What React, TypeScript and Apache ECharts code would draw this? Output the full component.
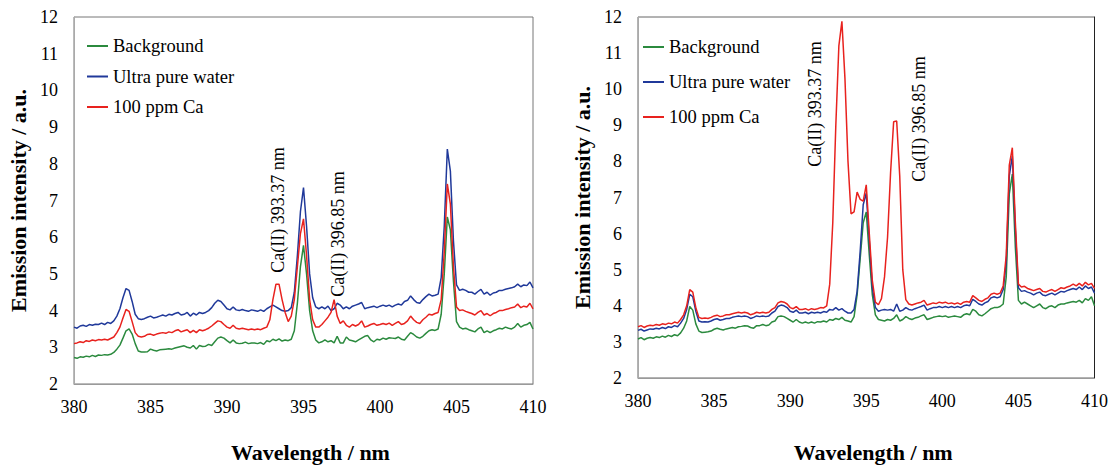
import { useEffect, useRef } from "react";
import * as echarts from "echarts";

// Wavelength grid (nm), 0.2 nm step from 380 to 410
const wavelengths: number[] = Array.from({ length: 151 }, (_, i) => +(380 + i * 0.2).toFixed(1));

const seriesNames = ["Background", "Ultra pure water", "100 ppm Ca"];
const seriesColors = ["#2B8A3E", "#20399A", "#E8221E"];
const xTicks = { min: 380, max: 410, interval: 5 };
const yTicks = { min: 2, max: 12, interval: 1 };

// ---- Left panel ----
const backgroundLeft = [
  2.72, 2.70, 2.74, 2.73, 2.76, 2.74, 2.78, 2.75, 2.79, 2.78,
  2.80, 2.79, 2.81, 2.86, 2.95, 3.06, 3.25, 3.45, 3.50, 3.36,
  3.10, 2.90, 2.87, 2.87, 2.88, 2.95, 2.92, 2.90, 2.93, 2.94,
  2.95, 2.96, 2.95, 2.98, 3.00, 3.02, 3.04, 3.00, 2.98, 3.05,
  2.95, 3.05, 3.02, 3.03, 3.08, 3.05, 3.15, 3.25, 3.28, 3.25,
  3.18, 3.12, 3.20, 3.12, 3.10, 3.11, 3.14, 3.10, 3.12, 3.12,
  3.10, 3.13, 3.08, 3.18, 3.15, 3.22, 3.18, 3.23, 3.17, 3.20,
  3.18, 3.22, 3.45, 4.20, 5.20, 5.78, 5.00, 4.00, 3.45, 3.20,
  3.12, 3.15, 3.20, 3.15, 3.18, 3.12, 3.30, 3.12, 3.12, 3.28,
  3.20, 3.18, 3.15, 3.20, 3.25, 3.30, 3.32, 3.20, 3.15, 3.22,
  3.20, 3.25, 3.22, 3.26, 3.25, 3.24, 3.28, 3.22, 3.20, 3.30,
  3.40, 3.35, 3.28, 3.25, 3.30, 3.38, 3.45, 3.48, 3.46, 3.50,
  3.90, 5.00, 6.55, 6.20, 4.80, 3.70, 3.55, 3.50, 3.52, 3.48,
  3.45, 3.42, 3.50, 3.55, 3.40, 3.45, 3.40, 3.45, 3.48, 3.52,
  3.50, 3.55, 3.52, 3.50, 3.55, 3.65, 3.55, 3.60, 3.62, 3.68,
  3.50,
];
const waterLeft = [
  3.55, 3.52, 3.58, 3.60, 3.57, 3.62, 3.60, 3.63, 3.62, 3.66,
  3.62, 3.68, 3.65, 3.72, 3.85, 4.05, 4.35, 4.60, 4.55, 4.25,
  3.90, 3.78, 3.76, 3.78, 3.82, 3.85, 3.80, 3.82, 3.85, 3.88,
  3.85, 3.90, 3.88, 3.92, 3.95, 3.88, 3.90, 3.95, 3.85, 3.93,
  3.88, 3.95, 3.92, 3.95, 4.00, 4.08, 4.20, 4.28, 4.25, 4.15,
  4.05, 4.02, 4.10, 4.02, 4.00, 4.03, 4.00, 3.98, 4.02, 4.00,
  3.98, 4.02, 3.98, 4.05, 4.10, 4.15, 4.10, 4.05, 4.00, 3.98,
  4.00, 4.08, 4.50, 5.50, 6.70, 7.35, 6.30, 5.00, 4.35, 4.10,
  4.05, 4.10, 4.05, 4.12, 4.00, 4.05, 4.20, 4.15, 4.05, 4.10,
  4.05, 4.12, 4.15, 4.18, 4.22, 4.05, 4.08, 4.10, 4.12, 4.08,
  4.12, 4.15, 4.12, 4.15, 4.10, 4.15, 4.18, 4.15, 4.25, 4.28,
  4.40, 4.30, 4.22, 4.20, 4.30, 4.38, 4.45, 4.40, 4.42, 4.45,
  4.90, 6.30, 8.40, 7.80, 5.90, 4.70, 4.55, 4.58, 4.55, 4.50,
  4.50, 4.45, 4.52, 4.58, 4.45, 4.50, 4.42, 4.48, 4.50, 4.55,
  4.55, 4.58, 4.60, 4.62, 4.65, 4.72, 4.65, 4.70, 4.68, 4.78,
  4.62,
];
const calciumLeft = [
  3.10, 3.12, 3.15, 3.13, 3.18, 3.16, 3.20, 3.18, 3.21, 3.20,
  3.22, 3.20, 3.24, 3.28, 3.40, 3.55, 3.80, 4.03, 3.98, 3.70,
  3.40, 3.30, 3.28, 3.30, 3.35, 3.36, 3.33, 3.36, 3.38, 3.40,
  3.38, 3.42, 3.40, 3.45, 3.48, 3.42, 3.45, 3.48, 3.40, 3.46,
  3.40, 3.48, 3.45, 3.48, 3.52, 3.58, 3.65, 3.72, 3.70, 3.62,
  3.55, 3.52, 3.60, 3.52, 3.50, 3.52, 3.50, 3.48, 3.50, 3.48,
  3.50, 3.48, 3.52, 3.55, 3.75, 4.30, 4.72, 4.72, 4.30, 3.95,
  3.70, 3.85, 4.30, 5.20, 6.10, 6.50, 5.50, 4.30, 3.75, 3.55,
  3.55, 3.62, 3.72, 3.82, 3.95, 4.30, 3.85, 3.65, 3.72, 3.60,
  3.55, 3.62, 3.58, 3.62, 3.72, 3.55, 3.58, 3.62, 3.65, 3.60,
  3.62, 3.65, 3.62, 3.66, 3.60, 3.65, 3.70, 3.62, 3.65, 3.72,
  3.85, 3.75, 3.68, 3.65, 3.75, 3.82, 3.90, 3.88, 3.92, 3.95,
  4.30, 5.60, 7.45, 6.90, 5.20, 4.10, 4.00, 4.02, 3.98, 3.95,
  3.92, 3.88, 3.95, 4.00, 3.88, 3.92, 3.86, 3.92, 3.95, 4.00,
  4.00, 4.03, 4.05, 4.08, 4.10, 4.18, 4.08, 4.12, 4.10, 4.20,
  4.05,
];

// ---- Right panel ----
const backgroundRight = [
  3.08, 3.12, 3.06, 3.10, 3.12, 3.10, 3.14, 3.12, 3.16, 3.13,
  3.18, 3.15, 3.20, 3.17, 3.25, 3.38, 3.58, 3.98, 3.88, 3.50,
  3.30, 3.26, 3.27, 3.28, 3.30, 3.35, 3.38, 3.35, 3.33, 3.36,
  3.38, 3.40, 3.38, 3.42, 3.43, 3.45, 3.44, 3.40, 3.38, 3.45,
  3.45, 3.48, 3.45, 3.47, 3.55, 3.58, 3.70, 3.72, 3.70, 3.65,
  3.60, 3.55, 3.62, 3.55, 3.52, 3.55, 3.52, 3.55, 3.52, 3.56,
  3.55, 3.58, 3.55, 3.62, 3.60, 3.65, 3.62, 3.68, 3.60, 3.58,
  3.55, 3.70, 4.30, 5.30, 6.30, 6.60, 5.40, 4.30, 3.75, 3.62,
  3.60, 3.58, 3.62, 3.60, 3.65, 3.75, 3.58, 3.62, 3.70, 3.65,
  3.62, 3.66, 3.68, 3.72, 3.75, 3.62, 3.65, 3.68, 3.70, 3.72,
  3.70, 3.72, 3.68, 3.70, 3.72, 3.70, 3.68, 3.75, 3.78, 3.75,
  3.90, 3.85, 3.75, 3.72, 3.78, 3.85, 3.92, 3.95, 3.95, 3.98,
  4.05, 4.80, 7.10, 7.65, 5.60, 4.15, 4.05, 4.10, 4.05, 4.00,
  3.95, 4.00, 4.05, 3.95, 3.92, 3.98, 4.00, 3.95, 4.02, 4.05,
  4.05, 4.08, 4.10, 4.12, 4.10, 4.15, 4.08, 4.20, 4.15, 4.25,
  4.00,
];
const waterRight = [
  3.32, 3.35, 3.30, 3.33, 3.36, 3.35, 3.38, 3.36, 3.40, 3.37,
  3.42, 3.40, 3.45, 3.42, 3.52, 3.65, 3.90, 4.32, 4.25, 3.85,
  3.58, 3.55, 3.56, 3.55, 3.58, 3.62, 3.64, 3.60, 3.62, 3.65,
  3.65, 3.68, 3.70, 3.72, 3.70, 3.72, 3.70, 3.65, 3.68, 3.72,
  3.70, 3.72, 3.70, 3.72, 3.80, 3.85, 3.98, 4.02, 4.00, 3.95,
  3.85, 3.82, 3.88, 3.80, 3.80, 3.82, 3.78, 3.82, 3.80, 3.82,
  3.80, 3.84, 3.82, 3.90, 3.88, 3.95, 3.88, 3.92, 3.85, 3.80,
  3.80, 3.90, 4.40, 5.50, 6.80, 7.12, 5.80, 4.50, 3.95, 3.85,
  3.88, 3.90, 3.88, 3.90, 3.85, 4.05, 3.85, 3.88, 3.95, 3.90,
  3.88, 3.92, 3.95, 3.98, 4.02, 3.88, 3.92, 3.95, 3.95, 3.98,
  3.95, 3.98, 3.95, 3.98, 3.95, 3.98, 3.95, 4.00, 4.02, 4.00,
  4.18, 4.12, 4.05, 4.02, 4.08, 4.12, 4.22, 4.25, 4.22, 4.25,
  4.45, 5.20, 7.60, 8.15, 6.10, 4.50, 4.40, 4.42, 4.38, 4.35,
  4.30, 4.35, 4.38, 4.30, 4.28, 4.32, 4.35, 4.30, 4.35, 4.40,
  4.38, 4.42, 4.45, 4.48, 4.45, 4.52, 4.45, 4.55, 4.48, 4.52,
  4.35,
];
const calciumRight = [
  3.42, 3.45, 3.40, 3.44, 3.46, 3.45, 3.48, 3.46, 3.50, 3.48,
  3.52, 3.50, 3.55, 3.52, 3.62, 3.75, 4.00, 4.45, 4.38, 3.95,
  3.68, 3.65, 3.66, 3.65, 3.68, 3.72, 3.74, 3.70, 3.72, 3.75,
  3.75, 3.78, 3.80, 3.82, 3.80, 3.82, 3.80, 3.75, 3.78, 3.82,
  3.80, 3.82, 3.80, 3.82, 3.90, 3.95, 4.08, 4.12, 4.10, 4.05,
  3.95, 3.92, 3.98, 3.90, 3.90, 3.92, 3.88, 3.92, 3.90, 3.92,
  3.95, 3.94, 4.00, 4.60, 6.30, 9.00, 11.20, 11.88, 10.30, 8.00,
  6.55, 6.60, 7.15, 6.95, 6.90, 7.35, 6.00, 4.70, 4.10, 4.03,
  4.20, 4.80, 5.90, 7.70, 9.10, 9.12, 7.60, 5.00, 4.17, 4.05,
  4.02, 4.05, 4.08, 4.10, 4.15, 4.02, 4.05, 4.08, 4.06, 4.10,
  4.08, 4.10, 4.06, 4.08, 4.05, 4.08, 4.04, 4.10, 4.12, 4.10,
  4.28, 4.22, 4.15, 4.12, 4.18, 4.22, 4.32, 4.35, 4.32, 4.35,
  4.55, 5.40, 7.90, 8.38, 6.30, 4.60, 4.52, 4.54, 4.48, 4.45,
  4.42, 4.45, 4.48, 4.40, 4.38, 4.42, 4.45, 4.40, 4.45, 4.50,
  4.48, 4.52, 4.55, 4.60, 4.55, 4.62, 4.55, 4.65, 4.58, 4.62,
  4.48,
];

const annotations = ["Ca(II) 393.37 nm", "Ca(II) 396.85 nm"];

const SERIF = "Liberation Serif";

function pairs(values: number[]) {
  return wavelengths.map((w, i) => [w, values[i]]);
}

export default function App() {
  const ref = useRef<HTMLDivElement>(null);

  useEffect(() => {
    if (!ref.current) return;
    const chart = echarts.init(ref.current, null, { renderer: "svg" });

    const grids = [
      { left: 74, top: 17, width: 459, height: 374 },
      { left: 638, top: 17, width: 458, height: 374 },
    ];

    const xAxes = grids.map((_, gi) => ({
      type: "value",
      gridIndex: gi,
      min: xTicks.min,
      max: xTicks.max,
      interval: xTicks.interval,
      axisLine: { show: true, lineStyle: { color: "#9a9a9a", width: 1 } },
      axisTick: { show: false },
      splitLine: { show: false },
      axisLabel: { color: "#000", fontFamily: SERIF, fontSize: 18, margin: 14 },
      name: "Wavelength / nm",
      nameLocation: "middle",
      nameGap: gi === 0 ? 57 : 63,
      nameTextStyle: {
        color: "#000",
        fontFamily: SERIF,
        fontSize: 22,
        fontWeight: "bold",
        padding: [0, 0, 0, 14],
      },
    }));

    const yAxes: any[] = grids.map((_, gi) => ({
      type: "value",
      gridIndex: gi,
      min: yTicks.min,
      max: yTicks.max,
      interval: yTicks.interval,
      axisLine: { show: true, lineStyle: { color: "#aaaaaa", width: 1 } },
      axisTick: { show: false },
      splitLine: { show: false },
      axisLabel: { color: "#000", fontFamily: SERIF, fontSize: 18, margin: 16 },
      name: "Emission intensity / a.u.",
      nameLocation: "middle",
      nameGap: 45,
      nameTextStyle: {
        color: "#000",
        fontFamily: SERIF,
        fontSize: 22,
        fontWeight: "bold",
      },
    }));
    // dark right border of the right panel
    yAxes.push({
      type: "value",
      gridIndex: 1,
      position: "right",
      min: yTicks.min,
      max: yTicks.max,
      axisLine: { show: true, lineStyle: { color: "#222", width: 1 } },
      axisTick: { show: false },
      axisLabel: { show: false },
      splitLine: { show: false },
    });

    const leftData = [backgroundLeft, waterLeft, calciumLeft];
    const rightData = [backgroundRight, waterRight, calciumRight];

    const series: any[] = [];
    [leftData, rightData].forEach((set, gi) => {
      set.forEach((vals, si) => {
        series.push({
          type: "line",
          name: seriesNames[si],
          xAxisIndex: gi,
          yAxisIndex: gi,
          data: pairs(vals),
          showSymbol: false,
          symbol: "none",
          lineStyle: { color: seriesColors[si], width: 1.5 },
          itemStyle: { color: seriesColors[si] },
          z: 2 + si,
        });
      });
    });

    const legendBase = {
      orient: "vertical",
      icon: "rect",
      itemWidth: 21,
      itemHeight: 2,
      padding: 0,
      selectedMode: false,
      data: seriesNames,
      textStyle: { color: "#000", fontFamily: SERIF, fontSize: 18.5, lineHeight: 20 },
    };

    const annoFont = `18px "Liberation Serif"`;
    const option: any = {
      animation: false,
      backgroundColor: "#fff",
      textStyle: { fontFamily: SERIF },
      grid: [
        { ...grids[0], show: true, borderColor: "#777", borderWidth: 1, containLabel: false },
        { ...grids[1], show: true, borderColor: "#666", borderWidth: 1, containLabel: false },
      ],
      xAxis: xAxes,
      yAxis: yAxes,
      legend: [
        { ...legendBase, left: 87, top: 36, itemGap: 10.5 },
        { ...legendBase, left: 643, top: 37, itemGap: 15 },
      ],
      graphic: [
        { type: "text", x: 278, y: 210, rotation: Math.PI / 2, style: { text: annotations[0], font: annoFont, fill: "#000", textAlign: "center", textVerticalAlign: "middle" } },
        { type: "text", x: 338, y: 234, rotation: Math.PI / 2, style: { text: annotations[1], font: annoFont, fill: "#000", textAlign: "center", textVerticalAlign: "middle" } },
        { type: "text", x: 815, y: 104, rotation: Math.PI / 2, style: { text: annotations[0], font: annoFont, fill: "#000", textAlign: "center", textVerticalAlign: "middle" } },
        { type: "text", x: 919, y: 119, rotation: Math.PI / 2, style: { text: annotations[1], font: annoFont, fill: "#000", textAlign: "center", textVerticalAlign: "middle" } },
      ],
      series,
    };

    chart.setOption(option);
    return () => chart.dispose();
  }, []);

  return (
    <div
      ref={ref}
      style={{ position: "absolute", left: 0, top: 0, width: 1111, height: 468, background: "#fff" }}
    />
  );
}
